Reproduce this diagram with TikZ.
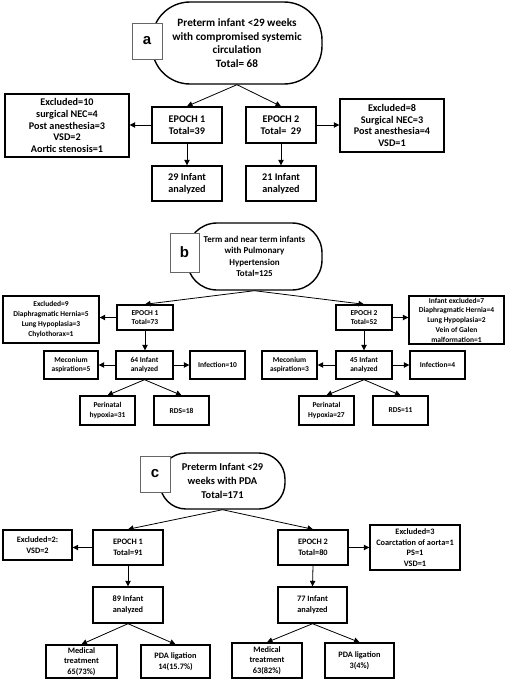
\documentclass[tikz,border=0pt]{standalone}
\usepackage{fontspec}
\setmainfont{Carlito}
\setsansfont{Liberation Sans}
\usetikzlibrary{arrows.meta,shadows}
\begin{document}
\begin{tikzpicture}[x=1pt,y=-1pt,
  fa/.style={font=\fontsize{11.2}{13.7}\selectfont\bfseries},
  fab/.style={font=\fontsize{10.2}{11.7}\selectfont\bfseries},
  fb/.style={font=\fontsize{9}{11.3}\selectfont\bfseries},
  fbb/.style={font=\fontsize{7.5}{9.7}\selectfont\bfseries},
  fc/.style={font=\fontsize{10.4}{14}\selectfont\bfseries},
  fcb/.style={font=\fontsize{8.3}{10.5}\selectfont\bfseries},
  box/.style={draw=black, line width=1.4pt, fill=white, align=center, inner sep=1pt,
    drop shadow={shadow xshift=1.4pt, shadow yshift=-1.4pt, fill=black!45, opacity=0.8}},
  stad/.style={draw=black, line width=1.4pt, fill=white, align=center, inner sep=1pt},
  lab/.style={draw=black!60, line width=0.6pt, fill=white, font=\sffamily\bfseries\fontsize{15}{15}\selectfont, inner sep=0pt},
  arr/.style={line width=0.8pt, -{Triangle[length=5.5pt,width=5.5pt]}}
]
\useasboundingbox (0,0) rectangle (509,685);
% ---------- panel a
\node[stad, fa, minimum width=170pt, minimum height=82pt, rounded corners=38pt] (stadA) at (237,43)
  {Preterm infant <29 weeks\\with compromised systemic\\circulation\\Total= 68};
\node[lab, minimum width=30pt, minimum height=36pt] (labA) at (147,41) {a};
\node[box, fab, minimum width=124pt, minimum height=63pt] (exA1) at (67,125.5)
  {Excluded=10\\surgical NEC=4\\Post anesthesia=3\\VSD=2\\Aortic stenosis=1};
\node[box, fab, minimum width=70pt, minimum height=36pt] (epA1) at (187,125) {EPOCH 1\\Total=39};
\node[box, fab, minimum width=70pt, minimum height=36pt] (epA2) at (281,125) {EPOCH 2\\Total=\ \ 29};
\node[box, fab, minimum width=104pt, minimum height=53pt] (exA2) at (392,125.5)
  {Excluded=8\\Surgical NEC=3\\Post anesthesia=4\\VSD=1};
\node[box, fab, minimum width=70pt, minimum height=35pt] (anA1) at (187,183.5) {29 Infant\\analyzed};
\node[box, fab, minimum width=70pt, minimum height=35pt] (anA2) at (281,183.5) {21 Infant\\analyzed};
\draw[arr] (stadA.south) -- (epA1.north);
\draw[arr] (stadA.south) -- (epA2.north);
\draw[arr] (epA1.west) -- (exA1.east|-epA1.west);
\draw[arr] (epA2.east) -- (exA2.west|-epA2.east);
\draw[arr] (epA1.south) -- (anA1.north);
\draw[arr] (epA2.south) -- (anA2.north);
% ---------- panel b
\node[stad, fb, minimum width=135pt, minimum height=67pt, rounded corners=30pt] (stadB) at (254.5,256.5)
  {Term and near term infants\\with Pulmonary\\Hypertension\\Total=125};
\node[lab, minimum width=29pt, minimum height=39pt] (labB) at (184.5,252.5) {b};
\node[box, fbb, minimum width=96pt, minimum height=47pt] (exB1) at (51,319.5)
  {Excluded=9\\Diaphragmatic Hernia=5\\Lung Hypoplasia=3\\Chylothorax=1};
\node[box, fbb, minimum width=56pt, minimum height=25pt] (epB1) at (145,317.5) {EPOCH 1\\Total=73};
\node[box, fbb, minimum width=56pt, minimum height=25pt] (epB2) at (364,317.5) {EPOCH 2\\Total=52};
\node[box, fbb, minimum width=95pt, minimum height=48pt] (exB2) at (456.5,320)
  {Infant excluded=7\\Diaphragmatic Hernia=4\\Lung Hypoplasia=2\\Vein of Galen\\malformation=1};
\node[box, fbb, minimum width=57pt, minimum height=28pt] (anB1) at (144.5,365) {64 Infant\\analyzed};
\node[box, fbb, minimum width=54pt, minimum height=28pt] (meB1) at (71,365) {Meconium\\aspiration=5};
\node[box, fbb, minimum width=55pt, minimum height=28pt] (inB1) at (217.5,365) {Infection=10};
\node[box, fbb, minimum width=55pt, minimum height=29pt] (peB1) at (107.5,410.5) {Perinatal\\hypoxia=31};
\node[box, fbb, minimum width=55pt, minimum height=29pt] (rdB1) at (181.5,410.5) {RDS=18};
\node[box, fbb, minimum width=56pt, minimum height=28pt] (anB2) at (364,365) {45 Infant\\analyzed};
\node[box, fbb, minimum width=55pt, minimum height=28pt] (meB2) at (289.5,365) {Meconium\\aspiration=3};
\node[box, fbb, minimum width=55pt, minimum height=28pt] (inB2) at (437.5,365) {Infection=4};
\node[box, fbb, minimum width=55pt, minimum height=29pt] (peB2) at (326.5,410.5) {Perinatal\\Hypoxia=27};
\node[box, fbb, minimum width=55pt, minimum height=29pt] (rdB2) at (400.5,410.5) {RDS=11};
\draw[arr] (stadB.south) -- (epB1.north);
\draw[arr] (stadB.south) -- (epB2.north);
\draw[arr] (epB1.west) -- (exB1.east|-epB1.west);
\draw[arr] (epB2.east) -- (exB2.west|-epB2.east);
\draw[arr] (epB1.south) -- (anB1.north-|epB1.south);
\draw[arr] (epB2.south) -- (anB2.north);
\draw[arr] (anB1.west) -- (meB1.east);
\draw[arr] (anB1.east) -- (inB1.west);
\draw[arr] (anB2.west) -- (meB2.east);
\draw[arr] (anB2.east) -- (inB2.west);
\draw[arr] (anB1.south) -- (peB1.north);
\draw[arr] (anB1.south) -- (rdB1.north);
\draw[arr] (anB2.south) -- (peB2.north);
\draw[arr] (anB2.south) -- (rdB2.north);
% ---------- panel c
\node[stad, fc, minimum width=125pt, minimum height=56pt, rounded corners=26pt] (stadC) at (222.5,481)
  {Preterm Infant <29\\weeks with PDA\\Total=171};
\node[lab, minimum width=30pt, minimum height=36pt] (labC) at (155,474) {c};
\node[box, fcb, minimum width=69pt, minimum height=30pt] (exC1) at (37.5,545) {Excluded=2:\\VSD=2};
\node[box, fcb, minimum width=70pt, minimum height=35pt] (epC1) at (128,547.5) {EPOCH 1\\Total=91};
\node[box, fcb, minimum width=70pt, minimum height=35pt] (epC2) at (313,547.5) {EPOCH 2\\Total=80};
\node[box, fcb, minimum width=90pt, minimum height=45pt] (exC2) at (415,547.5)
  {Excluded=3\\Coarctation of aorta=1\\PS=1\\VSD=1};
\node[box, fcb, minimum width=70pt, minimum height=36pt] (anC1) at (128,605) {89 Infant\\analyzed};
\node[box, fcb, minimum width=69pt, minimum height=36pt] (anC2) at (312.5,605) {77 Infant\\analyzed};
\node[box, fcb, minimum width=71pt, minimum height=33pt] (mtC1) at (81.5,661.5) {Medical\\treatment\\65(73\%)};
\node[box, fcb, minimum width=69pt, minimum height=33pt] (plC1) at (175.5,661.5) {PDA ligation\\14(15.7\%)};
\node[box, fcb, minimum width=70pt, minimum height=35pt] (mtC2) at (267,660.5) {Medical\\treatment\\63(82\%)};
\node[box, fcb, minimum width=69pt, minimum height=35pt] (plC2) at (359.5,660.5) {PDA ligation\\3(4\%)};
\draw[arr] (stadC.south) -- (epC1.north);
\draw[arr] (stadC.south) -- (epC2.north);
\draw[arr] (epC1.west) -- (exC1.east|-epC1.west);
\draw[arr] (epC2.east) -- (exC2.west|-epC2.east);
\draw[arr] (epC1.south) -- (anC1.north);
\draw[arr] (epC2.south) -- (anC2.north);
\draw[arr] (anC1.south) -- (mtC1.north);
\draw[arr] (anC1.south) -- (plC1.north);
\draw[arr] (anC2.south) -- (mtC2.north);
\draw[arr] (anC2.south) -- (plC2.north);
\end{tikzpicture}
\end{document}
